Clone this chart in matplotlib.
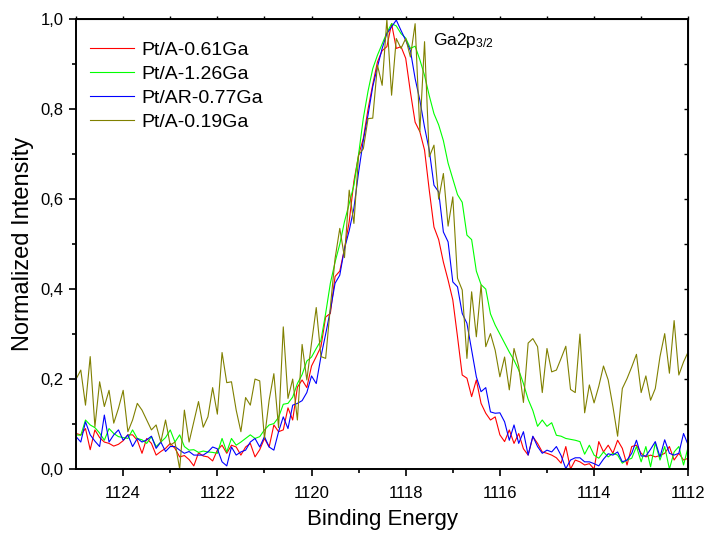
import numpy as np
import matplotlib
matplotlib.use("Agg")
import matplotlib.pyplot as plt

plt.rcParams['font.family'] = ['Liberation Sans', 'DejaVu Sans']
plt.rcParams['mathtext.fontset'] = 'custom'
plt.rcParams['mathtext.rm'] = 'Liberation Sans'
plt.rcParams['mathtext.it'] = 'Liberation Sans'

# binding energy grid, 0.1 eV steps from 1125 down to 1112 eV
energy = np.round(np.arange(1125.0, 1111.95, -0.1), 1)

red = [0.079, 0.076, 0.090, 0.043, 0.087, 0.070, 0.060, 0.057, 0.051, 0.055,
       0.063, 0.076, 0.076, 0.064, 0.035, 0.068, 0.057, 0.031, 0.039, 0.046,
       0.057, 0.046, 0.027, 0.030, 0.021, 0.007, 0.036, 0.029, 0.027, 0.018,
       0.042, 0.053, 0.035, 0.053, 0.049, 0.031, 0.049, 0.057, 0.027, 0.043,
       0.068, 0.049, 0.098, 0.083, 0.087, 0.136, 0.109, 0.182, 0.198, 0.181,
       0.229, 0.250, 0.272, 0.338, 0.346, 0.428, 0.440, 0.490, 0.550, 0.640,
       0.698, 0.735, 0.800, 0.855, 0.905, 0.930, 0.939, 0.990, 0.935, 0.939,
       0.913, 0.838, 0.771, 0.750, 0.709, 0.620, 0.538, 0.510, 0.460, 0.420,
       0.376, 0.294, 0.209, 0.202, 0.161, 0.198, 0.146, 0.124, 0.109, 0.116,
       0.076, 0.061, 0.087, 0.057, 0.079, 0.045, 0.031, 0.072, 0.057, 0.038,
       0.035, 0.031, 0.025, 0.013, 0.050, 0.000, 0.020, 0.016, 0.009, 0.012,
       0.000, 0.061, 0.038, 0.053, 0.035, 0.064, 0.046, 0.009, 0.050, 0.053,
       0.035, 0.027, 0.031, 0.027, 0.030, 0.035, 0.050, 0.020, 0.035, 0.020,
       0.024]

green = [0.076, 0.075, 0.109, 0.098, 0.092, 0.080, 0.064, 0.090, 0.079, 0.072,
         0.070, 0.068, 0.087, 0.068, 0.065, 0.057, 0.072, 0.050, 0.060, 0.070,
         0.087, 0.060, 0.076, 0.050, 0.042, 0.043, 0.037, 0.040, 0.038, 0.037,
         0.035, 0.068, 0.038, 0.068, 0.053, 0.060, 0.068, 0.076, 0.068, 0.072,
         0.087, 0.098, 0.101, 0.115, 0.144, 0.146, 0.160, 0.190, 0.210, 0.240,
         0.249, 0.268, 0.286, 0.346, 0.413, 0.460, 0.500, 0.550, 0.590, 0.631,
         0.700, 0.780, 0.840, 0.890, 0.920, 0.945, 0.970, 0.990, 0.985, 0.968,
         0.958, 0.935, 0.940, 0.910, 0.875, 0.830, 0.790, 0.765, 0.730, 0.680,
         0.645, 0.610, 0.593, 0.520, 0.510, 0.440, 0.410, 0.400, 0.345, 0.320,
         0.300, 0.280, 0.260, 0.242, 0.220, 0.190, 0.155, 0.130, 0.095, 0.109,
         0.095, 0.103, 0.075, 0.073, 0.068, 0.066, 0.064, 0.061, 0.033, 0.053,
         0.031, 0.024, 0.038, 0.027, 0.035, 0.031, 0.013, 0.020, 0.024, 0.050,
         0.016, 0.050, 0.005, 0.058, 0.020, 0.050, 0.000, 0.038, 0.050, 0.009,
         0.050]

blue = [0.072, 0.060, 0.105, 0.076, 0.062, 0.050, 0.120, 0.060, 0.076, 0.087,
        0.064, 0.076, 0.050, 0.068, 0.060, 0.065, 0.073, 0.046, 0.060, 0.039,
        0.050, 0.050, 0.042, 0.035, 0.039, 0.031, 0.031, 0.031, 0.038, 0.049,
        0.045, 0.016, 0.007, 0.049, 0.031, 0.038, 0.042, 0.060, 0.068, 0.049,
        0.072, 0.049, 0.042, 0.083, 0.116, 0.090, 0.142, 0.146, 0.152, 0.170,
        0.207, 0.190, 0.250, 0.300, 0.353, 0.413, 0.431, 0.490, 0.530, 0.580,
        0.660, 0.731, 0.787, 0.850, 0.894, 0.935, 0.968, 0.983, 0.998, 0.975,
        0.953, 0.930, 0.868, 0.820, 0.760, 0.709, 0.631, 0.616, 0.527, 0.505,
        0.416, 0.405, 0.346, 0.324, 0.264, 0.205, 0.172, 0.181, 0.127, 0.124,
        0.125, 0.105, 0.064, 0.098, 0.057, 0.083, 0.031, 0.073, 0.050, 0.035,
        0.042, 0.038, 0.050, 0.030, 0.001, 0.020, 0.025, 0.025, 0.016, 0.016,
        0.012, 0.007, 0.022, 0.034, 0.031, 0.038, 0.016, 0.020, 0.035, 0.064,
        0.029, 0.029, 0.044, 0.061, 0.027, 0.065, 0.035, 0.031, 0.035, 0.079,
        0.053]

olive = [0.200, 0.220, 0.142, 0.250, 0.094, 0.194, 0.139, 0.175, 0.102, 0.135,
         0.175, 0.083, 0.109, 0.146, 0.131, 0.109, 0.087, 0.098, 0.060, 0.109,
         0.053, 0.060, 0.000, 0.131, 0.060, 0.105, 0.150, 0.093, 0.116, 0.181,
         0.122, 0.259, 0.192, 0.194, 0.131, 0.083, 0.159, 0.142, 0.200, 0.196,
         0.068, 0.153, 0.212, 0.092, 0.316, 0.157, 0.200, 0.109, 0.277, 0.198,
         0.280, 0.359, 0.250, 0.246, 0.360, 0.468, 0.535, 0.470, 0.620, 0.546,
         0.698, 0.712, 0.779, 0.780, 0.898, 0.853, 1.000, 0.831, 0.957, 0.935,
         0.957, 0.916, 0.990, 0.750, 0.950, 0.694, 0.720, 0.600, 0.657, 0.540,
         0.605, 0.424, 0.398, 0.246, 0.394, 0.294, 0.409, 0.272, 0.301, 0.264,
         0.205, 0.249, 0.176, 0.268, 0.228, 0.148, 0.280, 0.290, 0.272, 0.170,
         0.268, 0.216, 0.220, 0.246, 0.273, 0.177, 0.170, 0.300, 0.125, 0.187,
         0.147, 0.184, 0.229, 0.198, 0.139, 0.073, 0.179, 0.201, 0.227, 0.255,
         0.170, 0.207, 0.153, 0.179, 0.250, 0.301, 0.213, 0.330, 0.209, 0.238,
         0.261]

labels = ["Pt/A-0.61Ga", "Pt/A-1.26Ga", "Pt/AR-0.77Ga", "Pt/A-0.19Ga"]
colors = ["#ff0000", "#00ff00", "#0000ff", "#808000"]

x_ticks = [1124, 1122, 1120, 1118, 1116, 1114, 1112]
y_ticks = [0.0, 0.2, 0.4, 0.6, 0.8, 1.0]

fig = plt.figure(figsize=(7.11, 5.33), dpi=100)
ax = fig.add_axes([0.107, 0.12, 0.861, 0.844])

for series, lab, col in zip([red, green, blue, olive], labels, colors):
    ax.plot(energy, series, color=col, lw=0.8, label=lab)

ax.set_xlim(1125, 1112)
ax.set_ylim(0, 1.0)

ax.set_xticks(x_ticks)
ax.set_xticks(np.arange(1113, 1125, 2), minor=True)
ax.set_yticks(y_ticks)
ax.set_yticklabels([f"{v:.1f}".replace(".", ",") for v in y_ticks])
ax.set_yticks([0.1, 0.3, 0.5, 0.7, 0.9], minor=True)

for sp in ax.spines.values():
    sp.set_linewidth(1.4)

ax.tick_params(which="both", direction="out", width=1.2, labelsize=12,
               top=False, right=False)
ax.tick_params(which="major", length=5)
ax.tick_params(which="minor", length=3)
ax.tick_params(axis="x", pad=7)
ax.tick_params(axis="y", pad=4)

# short tick marks along the top and right frame
top = ax.secondary_xaxis("top")
top.set_xticks(np.arange(1112, 1126, 1))
top.tick_params(direction="out", length=2.5, width=1.0, labeltop=False)
right = ax.secondary_yaxis("right")
right.set_yticks([0.1, 0.2, 0.3, 0.4, 0.5, 0.6, 0.7, 0.8, 0.9])
right.tick_params(direction="in", length=3, width=1.0, labelright=False)

ax.set_xlabel("Binding Energy", fontsize=16, labelpad=6)
ax.set_ylabel("Normalized Intensity", fontsize=17, labelpad=5)

ax.text(1117.42, 0.952, r"Ga2p$_{\mathrm{3/2}}$", fontsize=12.5,
        ha="left", va="center")

ax.legend(loc="upper left", bbox_to_anchor=(0.022, 0.95), frameon=False,
          fontsize=14, handlelength=2.3, handletextpad=0.35,
          labelspacing=0.32, borderpad=0, borderaxespad=0)

fig.savefig("out.png", dpi=100)
